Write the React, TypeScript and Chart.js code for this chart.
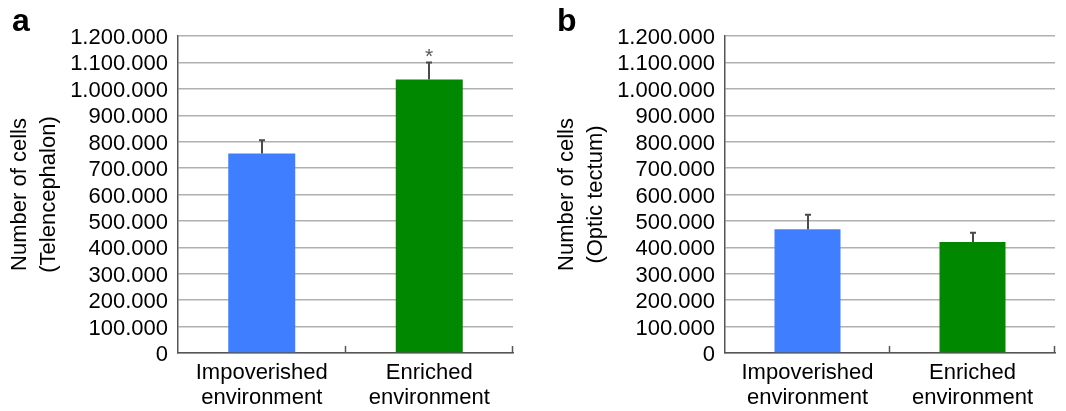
import React, { useEffect, useRef } from "react";
import { Chart, registerables } from "chart.js";

Chart.register(...registerables);

const categories: string[][] = [
  ["Impoverished", "environment"],
  ["Enriched", "environment"],
];
const telencephalonValues = [755000, 1035000];
const telencephalonErrors = [50000, 65000];
const tectumValues = [468000, 420000];
const tectumErrors = [55000, 35000];
const significance = ["", "*"];
const noSignificance = ["", ""];
const yMin = 0;
const yMax = 1200000;
const yStep = 100000;

const FONT = "'Liberation Sans', Arial, Helvetica, sans-serif";
const BLUE = "#3f7fff";
const GREEN = "#008800";

function fmt(v: number): string {
  return Math.round(v).toString().replace(/\B(?=(\d{3})+(?!\d))/g, ".");
}

interface PanelProps {
  letter: string;
  title: string[];
  values: number[];
  errors: number[];
  stars: string[];
  width: number;
  yWidth: number;
  padRight: number;
  titlePad: number;
  letterX: number;
}

function Panel(p: PanelProps) {
  const ref = useRef<HTMLCanvasElement | null>(null);
  useEffect(() => {
    if (!ref.current) return;
    const extras = {
      id: "extras",
      afterDatasetsDraw(chart: any) {
        const ctx = chart.ctx;
        const x = chart.scales.x;
        const y = chart.scales.y;
        const area = chart.chartArea;
        ctx.save();
        // inward tick marks at category boundaries
        ctx.strokeStyle = "#555";
        ctx.lineWidth = 1.5;
        const n = p.values.length;
        const step = x.getPixelForValue(1) - x.getPixelForValue(0);
        for (let i = 0; i < n; i++) {
          const bx = Math.round(x.getPixelForValue(i) + step / 2) - 0.5;
          ctx.beginPath();
          ctx.moveTo(bx, area.bottom);
          ctx.lineTo(bx, area.bottom - 7);
          ctx.stroke();
        }
        // error bars
        ctx.strokeStyle = "#4a4a4a";
        ctx.lineWidth = 2;
        p.values.forEach((v, i) => {
          const cx = Math.round(x.getPixelForValue(i));
          const y0 = y.getPixelForValue(v);
          const y1 = y.getPixelForValue(v + p.errors[i]);
          ctx.beginPath();
          ctx.moveTo(cx, y0);
          ctx.lineTo(cx, y1);
          ctx.moveTo(cx - 3, y1);
          ctx.lineTo(cx + 3, y1);
          ctx.stroke();
          if (p.stars[i]) {
            ctx.fillStyle = "#555";
            ctx.font = `21px ${FONT}`;
            ctx.textAlign = "center";
            ctx.textBaseline = "alphabetic";
            ctx.fillText(p.stars[i], cx, y1 + 1);
          }
        });
        // panel letter
        ctx.fillStyle = "#000";
        ctx.font = `bold 32px ${FONT}`;
        ctx.textAlign = "left";
        ctx.textBaseline = "alphabetic";
        ctx.fillText(p.letter, p.letterX, 30.5);
        ctx.restore();
      },
    };
    const chart = new Chart(ref.current, {
      type: "bar",
      data: {
        labels: categories,
        datasets: [
          {
            data: p.values,
            backgroundColor: [BLUE, GREEN],
            borderWidth: 0,
            barPercentage: 0.4,
            categoryPercentage: 1,
          },
        ],
      },
      options: {
        responsive: false,
        animation: false,
        events: [],
        layout: { padding: { left: 0, right: p.padRight, top: 36, bottom: 0 } },
        plugins: {
          legend: { display: false },
          tooltip: { enabled: false },
          title: { display: false },
        },
        scales: {
          x: {
            grid: { display: false, drawTicks: false },
            border: { display: true, color: "#555", width: 1.5 },
            ticks: {
              color: "#000",
              font: { family: FONT, size: 22, lineHeight: 1.15 },
              padding: 7,
              maxRotation: 0,
              autoSkip: false,
            },
            afterFit(scale: any) {
              scale.height = 58;
            },
          },
          y: {
            min: yMin,
            max: yMax,
            grid: { color: "#b0b0b0", lineWidth: 1.5, drawTicks: false },
            border: { display: true, color: "#555", width: 1.5 },
            ticks: {
              stepSize: yStep,
              autoSkip: false,
              color: "#000",
              padding: 10,
              labelOffset: 2,
              font: { family: FONT, size: 22 },
              callback: (v: any) => fmt(Number(v)),
            },
            title: {
              display: true,
              text: p.title,
              color: "#000",
              font: { family: FONT, size: 22, lineHeight: 1.3 },
              padding: { top: p.titlePad, bottom: 0 },
            },
            afterFit(scale: any) {
              scale.width = p.yWidth;
            },
          },
        },
      },
      plugins: [extras],
    } as any);
    return () => chart.destroy();
  }, []);
  return (
    <canvas
      ref={ref}
      width={p.width}
      height={411}
      style={{ width: p.width, height: 411, display: "block" }}
    />
  );
}

export default function App() {
  return (
    <div
      style={{
        position: "absolute",
        left: 0,
        top: 0,
        width: 1066,
        height: 411,
        background: "#fff",
        display: "flex",
      }}
    >
      <Panel
        letter="a"
        title={["Number of cells", "(Telencephalon)"]}
        values={telencephalonValues}
        errors={telencephalonErrors}
        stars={significance}
        width={530}
        yWidth={178}
        padRight={17}
        titlePad={6}
        letterX={12}
      />
      <Panel
        letter="b"
        title={["Number of cells", "(Optic tectum)"]}
        values={tectumValues}
        errors={tectumErrors}
        stars={noSignificance}
        width={536}
        yWidth={195}
        padRight={11}
        titlePad={23}
        letterX={27}
      />
    </div>
  );
}
